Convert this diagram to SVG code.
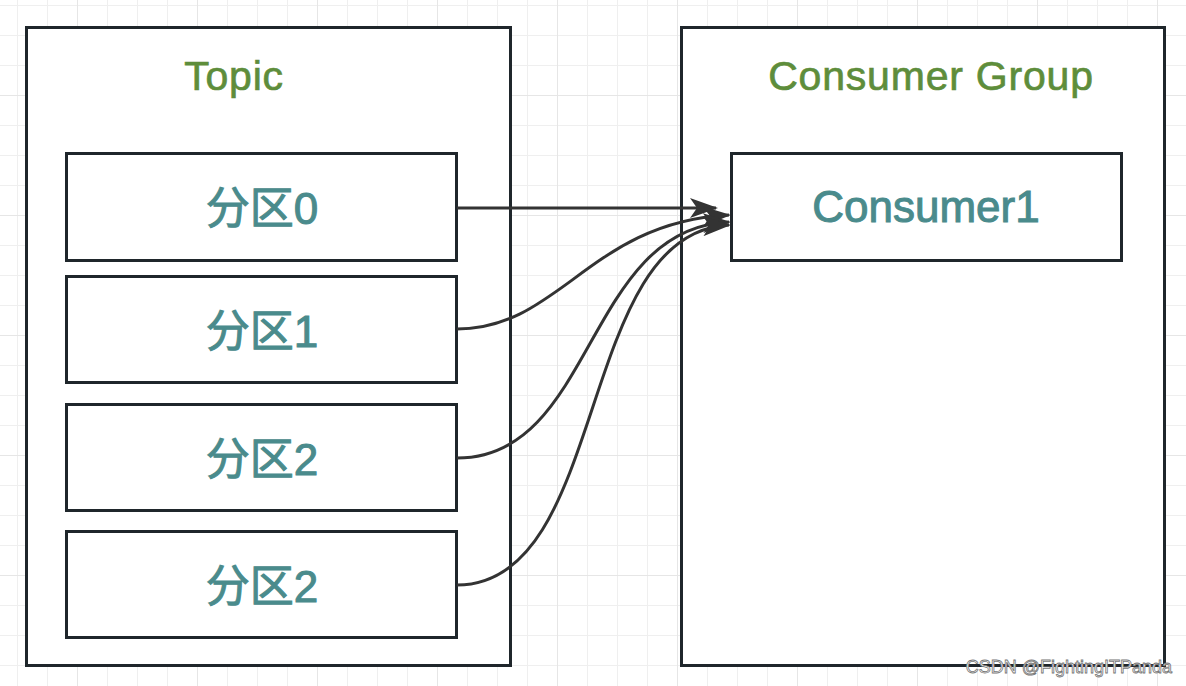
<svg xmlns="http://www.w3.org/2000/svg" width="1186" height="686" viewBox="0 0 1186 686">
<defs>
<pattern id="minor" x="17" y="5" width="30" height="30" patternUnits="userSpaceOnUse">
<path d="M0,0 V30 M0,0 H30" stroke="#efefef" stroke-width="2" fill="none"/>
</pattern>
<pattern id="major" x="77" y="95" width="120" height="120" patternUnits="userSpaceOnUse">
<path d="M0,0 V120 M0,0 H120" stroke="#e6e6e6" stroke-width="2" fill="none"/>
</pattern>
<marker id="arr" markerWidth="28" markerHeight="20" refX="26" refY="10" orient="auto" markerUnits="userSpaceOnUse">
<path d="M0,0 L28,10 L0,20 L7,10 Z" fill="#333"/>
</marker>
<style>
.box{fill:#fff;stroke:#1f262b;stroke-width:3}
.title{font-family:"Liberation Sans","Noto Sans CJK SC",sans-serif;font-size:41px;fill:#5e8d3b;stroke:#5e8d3b;stroke-width:0.7;text-anchor:middle;letter-spacing:0.8px}
.lbl{font-family:"Liberation Sans","Noto Sans CJK SC",sans-serif;font-size:44px;fill:#4a8b8c;stroke:#4a8b8c;stroke-width:1;text-anchor:middle}
.conn{fill:none;stroke:#333;stroke-width:3}
</style>
</defs>
<rect width="1186" height="686" fill="#fff"/>
<rect width="1186" height="686" fill="url(#minor)"/>
<rect width="1186" height="686" fill="url(#major)"/>
<g id="topic">
<rect class="box" x="26.5" y="27.5" width="484" height="638"/>
<text class="title" x="234" y="90">Topic</text>
</g>
<g id="group">
<rect class="box" x="681.5" y="27.5" width="483" height="638"/>
<text class="title" x="931" y="90">Consumer Group</text>
</g>
<g id="p0">
<rect class="box" x="66.5" y="153.5" width="390" height="107"/>
<text class="lbl" x="262" y="224">分区0</text>
</g>
<g id="p1">
<rect class="box" x="66.5" y="276.5" width="390" height="106"/>
<text class="lbl" x="262" y="347">分区1</text>
</g>
<g id="p2a">
<rect class="box" x="66.5" y="404.5" width="390" height="106"/>
<text class="lbl" x="262" y="475">分区2</text>
</g>
<g id="p2b">
<rect class="box" x="66.5" y="531.5" width="390" height="106"/>
<text class="lbl" x="262" y="602">分区2</text>
</g>
<g id="c1">
<rect class="box" x="731.5" y="153.5" width="390" height="107"/>
<text class="lbl" x="926" y="222">Consumer1</text>
</g>
<g id="connectors">
<path class="conn" d="M457,208 L716,208" marker-end="url(#arr)"/>
<path class="conn" d="M457,329 C560,329 590,222 729,215" marker-end="url(#arr)"/>
<path class="conn" d="M457,458 C595,458 585,228 729,222" marker-end="url(#arr)"/>
<path class="conn" d="M457,585 C610,585 575,232 729,225" marker-end="url(#arr)"/>
</g>
<text x="1172" y="673" text-anchor="end" font-family="Liberation Sans, sans-serif" font-size="18" fill="#fff" stroke="#777" stroke-width="0.8">CSDN @FightingITPanda</text>
</svg>
